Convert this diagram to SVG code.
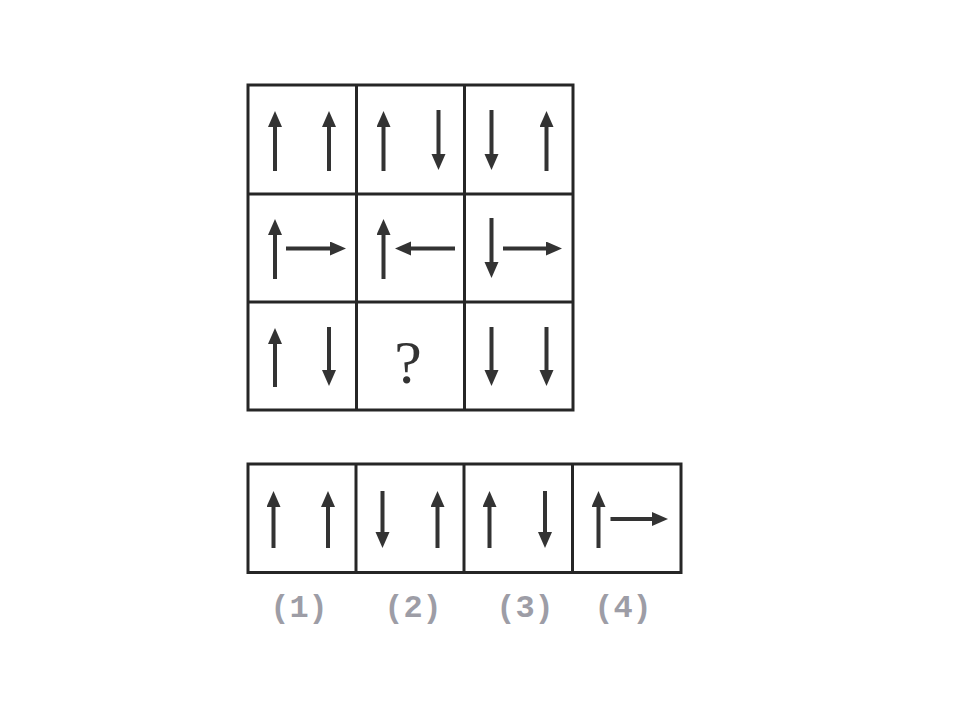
<svg xmlns="http://www.w3.org/2000/svg" width="960" height="720" viewBox="0 0 960 720">
<style>
.frame{fill:none;stroke:#262626;stroke-width:3}
.a{stroke:#333;stroke-width:4;fill:none;marker-end:url(#ah)}
.lbl{font-family:"Liberation Mono",monospace;font-weight:bold;font-size:32px;fill:#9d9da6;text-anchor:middle}
.q{font-family:"Liberation Serif",serif;font-size:62px;fill:#333;text-anchor:middle}
</style>
<defs>
<marker id="ah" markerUnits="userSpaceOnUse" markerWidth="17" markerHeight="15" refX="4" refY="7" orient="auto">
<path d="M0,0 L16,7 L0,14 z" fill="#333"/>
</marker>
</defs>
<rect width="960" height="720" fill="#fff"/>
<g id="grid">
<rect class="frame" x="248" y="85" width="325" height="325"/>
<line class="frame" x1="356.5" y1="85" x2="356.5" y2="410"/>
<line class="frame" x1="464.5" y1="85" x2="464.5" y2="410"/>
<line class="frame" x1="248" y1="194" x2="573" y2="194"/>
<line class="frame" x1="248" y1="302" x2="573" y2="302"/>
</g>
<g id="connectors">
<line class="a" x1="275" y1="171" x2="275" y2="123"/>
<line class="a" x1="329" y1="171" x2="329" y2="123"/>
<line class="a" x1="383.5" y1="171" x2="383.5" y2="123"/>
<line class="a" x1="438.5" y1="110" x2="438.5" y2="158"/>
<line class="a" x1="491.5" y1="110" x2="491.5" y2="158"/>
<line class="a" x1="546.5" y1="171" x2="546.5" y2="123"/>
<line class="a" x1="275" y1="279" x2="275" y2="231"/>
<line class="a" x1="286" y1="248.5" x2="334" y2="248.5"/>
<line class="a" x1="383.5" y1="279" x2="383.5" y2="231"/>
<line class="a" x1="455" y1="248.5" x2="407" y2="248.5"/>
<line class="a" x1="491.5" y1="218" x2="491.5" y2="266"/>
<line class="a" x1="503" y1="248.5" x2="550" y2="248.5"/>
<line class="a" x1="275" y1="387" x2="275" y2="340"/>
<line class="a" x1="329" y1="327" x2="329" y2="374"/>
<line class="a" x1="491.5" y1="327" x2="491.5" y2="374"/>
<line class="a" x1="546.5" y1="327" x2="546.5" y2="374"/>
<line class="a" x1="273.5" y1="548" x2="273.5" y2="503"/>
<line class="a" x1="328" y1="548" x2="328" y2="503"/>
<line class="a" x1="382.5" y1="491" x2="382.5" y2="536"/>
<line class="a" x1="437.5" y1="548" x2="437.5" y2="503"/>
<line class="a" x1="489.5" y1="548" x2="489.5" y2="503"/>
<line class="a" x1="545" y1="491" x2="545" y2="536"/>
<line class="a" x1="598.5" y1="548" x2="598.5" y2="503"/>
<line class="a" x1="610.5" y1="519" x2="656" y2="519"/>
</g>
<g id="question">
<text class="q" x="408" y="383">?</text>
</g>
<g id="options">
<rect class="frame" x="248" y="464" width="433" height="108.5"/>
<line class="frame" x1="356" y1="464" x2="356" y2="572.5"/>
<line class="frame" x1="464" y1="464" x2="464" y2="572.5"/>
<line class="frame" x1="572.5" y1="464" x2="572.5" y2="572.5"/>
</g>
<g id="labels">
<text class="lbl" x="299" y="617">(1)</text>
<text class="lbl" x="413" y="617">(2)</text>
<text class="lbl" x="525" y="617">(3)</text>
<text class="lbl" x="623" y="617">(4)</text>
</g>
</svg>
